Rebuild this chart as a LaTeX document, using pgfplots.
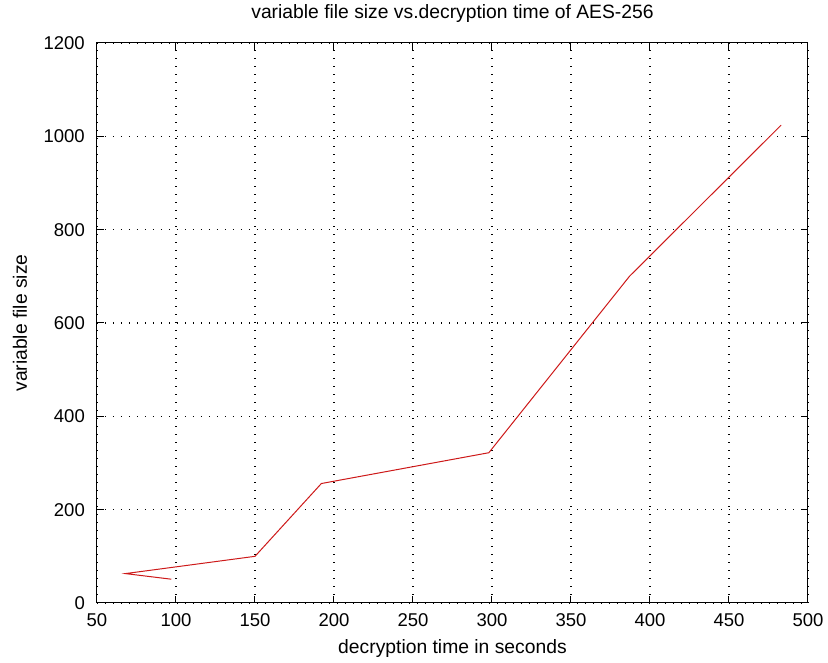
\documentclass[border=0pt]{standalone}
\usepackage{pgfplots}
\pgfplotsset{compat=1.18}
\usepackage{fontspec}
\setmainfont{Liberation Sans}
\begin{document}
\begin{tikzpicture}
\begin{axis}[
  at={(0pt,0pt)}, anchor=south west,
  scale only axis, width=711pt, height=560pt,
  xmin=50, xmax=500, ymin=0, ymax=1200,
  xtick={50,100,...,500}, ytick={0,200,...,1200},
  grid=major,
  major grid style={black, line width=1.1pt, dash pattern=on 1.1pt off 6.9pt},
  axis line style={black, line width=1pt},
  tick align=inside, tick pos=both,
  major tick length=7pt,
  tick style={black, line width=1pt},
  /pgf/number format/assume math mode=true,
  /pgf/number format/1000 sep={},
  ticklabel style={font=\fontsize{18.5}{20}\selectfont, inner sep=0pt},
  xticklabel style={anchor=north},
  yticklabel style={anchor=east},
  xticklabel shift=10pt,
  yticklabel shift=12pt,
  label style={font=\fontsize{19.3}{22}\selectfont},
  title style={font=\fontsize{19.3}{22}\selectfont, at={(axis description cs:0.5,1.042)}, anchor=center},
  title={variable file size vs.decryption time of AES-256},
  xlabel={decryption time in seconds},
  ylabel={variable file size},
  xlabel style={at={(axis description cs:0.5,-0.0804)}, anchor=center},
  ylabel style={at={(axis description cs:-0.1083,0.5)}, anchor=center},
]
\addplot[color={rgb,255:red,205;green,25;blue,25}, line width=1pt] coordinates {
(97,51) (68,63) (150,100) (192,256) (298,322) (387,700) (483,1024)
};
\end{axis}
\pgfresetboundingbox
\useasboundingbox (-97pt,-60pt) rectangle ++(828pt,663pt);
\end{tikzpicture}
\end{document}
